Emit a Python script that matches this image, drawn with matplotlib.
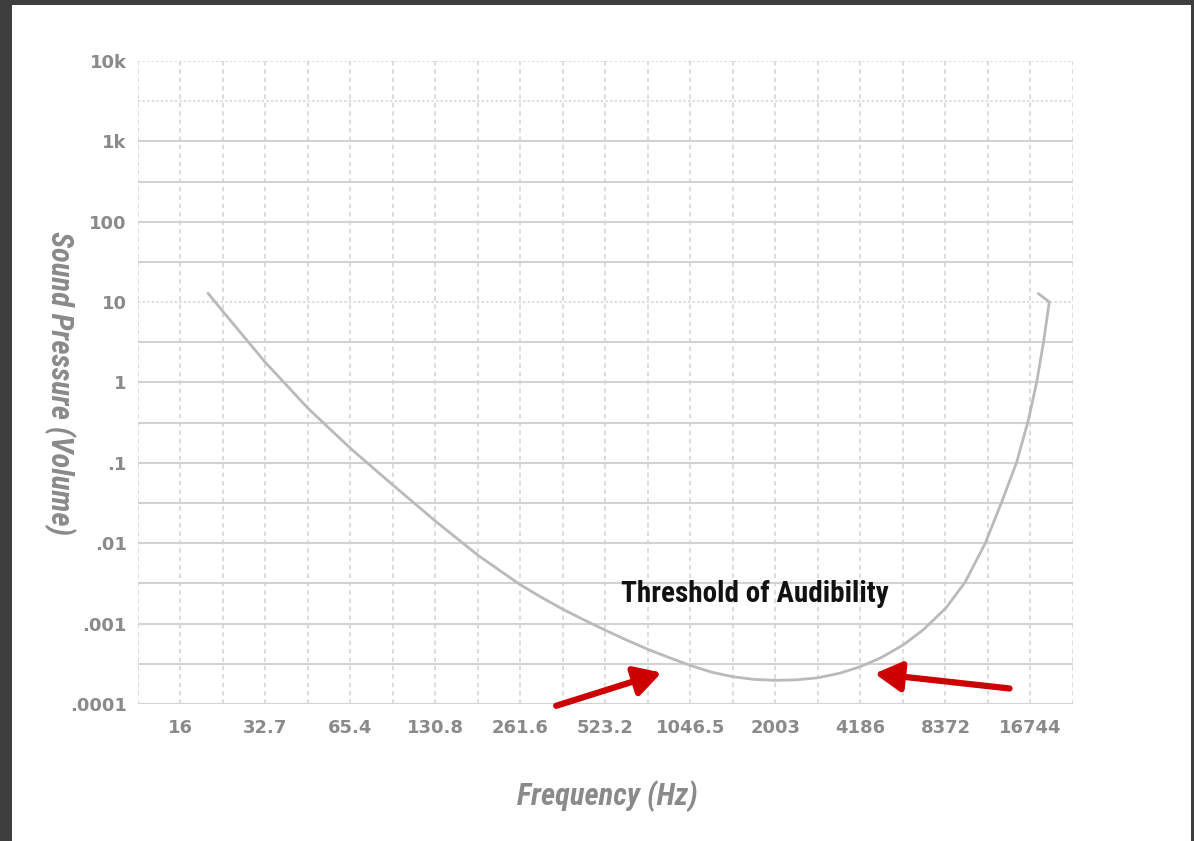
import numpy as np
import matplotlib
matplotlib.use("Agg")
import matplotlib.pyplot as plt
from matplotlib.patches import Rectangle
from matplotlib.ticker import NullLocator

# Octave frequencies on the x axis and their printed labels
octave_hz = [16.35, 32.7, 65.4, 130.8, 261.6, 523.2, 1046.5, 2093.0, 4186.0, 8372.0, 16744.0]
octave_labels = ["16", "32.7", "65.4", "130.8", "261.6", "523.2", "1046.5", "2003", "4186", "8372", "16744"]

# Sound pressure decades on the y axis
pressure_ticks = [1e-4, 1e-3, 1e-2, 1e-1, 1, 10, 100, 1e3, 1e4]
pressure_labels = [".0001", ".001", ".01", ".1", "1", "10", "100", "1k", "10k"]

# Threshold of audibility curve (frequency in Hz, relative sound pressure)
threshold_hz = [20.46, 23.18, 32.56, 46.36, 65.99, 92.7, 132.0, 185.3, 260.4, 306.5,
                368.8, 436.2, 523.6, 621.4, 741.2, 884.7, 1047, 1243, 1482, 1769,
                2095, 2486, 2965, 3539, 4189, 4971, 5930, 6979, 8399, 9807,
                11553, 13237, 14959, 16446, 17610, 18585, 19515, 17841]
threshold_p = [12.9, 7.55, 1.80, 0.473, 0.1473, 0.0525, 0.01832, 0.00705, 0.003068, 0.002176,
               0.001516, 0.001125, 0.000825, 0.000625, 0.000477, 0.000375, 0.000301, 0.000249,
               0.000218, 0.000202, 0.000197, 0.000200, 0.000212, 0.000242, 0.000292, 0.000380,
               0.000543, 0.000837, 0.001564, 0.003248, 0.00986, 0.0325, 0.102, 0.338, 1.01,
               3.05, 10.05, 12.8]

# Callout text and the two arrows pointing at the curve minimum
callout_text = "Threshold of Audibility"
callout_at = (1764, 2.37e-3)
arrows = [((350, 9.5e-5), (826.6, 2.46e-4)),
          ((14110, 1.56e-4), (4693, 2.39e-4))]

GRID = "#d2d2d2"
LABEL = "#8a8a8a"
NARROW = ["Roboto Condensed", "DejaVu Sans"]

fig = plt.figure(figsize=(11.94, 8.41), dpi=100, facecolor="white")

# dark frame around the page
frame = "#3e3e3e"
fig.add_artist(Rectangle((0, 1 - 5 / 841), 1, 5 / 841, transform=fig.transFigure,
                         facecolor=frame, edgecolor="none"))
fig.add_artist(Rectangle((0, 0), 12 / 1194, 1, transform=fig.transFigure,
                         facecolor=frame, edgecolor="none"))
fig.add_artist(Rectangle((1 - 3 / 1194, 0), 3 / 1194, 1, transform=fig.transFigure,
                         facecolor=frame, edgecolor="none"))

ax = fig.add_axes([138 / 1194, 137 / 841, 935 / 1194, 643 / 841])
ax.set_xscale("log", base=2)
ax.set_yscale("log")
ax.set_xlim(octave_hz[0] / np.sqrt(2), octave_hz[-1] * np.sqrt(2))
ax.set_ylim(pressure_ticks[0], pressure_ticks[-1])
for s in ax.spines.values():
    s.set_visible(False)

# vertical grid: every half octave, dashed
half_octaves = octave_hz[0] * 2.0 ** (np.arange(-1, 2 * len(octave_hz)) / 2)
for xv in half_octaves:
    ax.axvline(xv, color=GRID, lw=1.1, ls=(0, (3, 2.5)), zorder=1)

# horizontal grid: every half decade
half_decades = 10.0 ** (np.arange(-8, 9) / 2)
dotted_rows = {8, 7, 2}
for j, yv in zip(range(-8, 9), half_decades):
    if j in dotted_rows:
        ax.axhline(yv, color=GRID, lw=1.1, ls=(0, (1.5, 1.5)), zorder=1)
    else:
        ax.axhline(yv, color=GRID, lw=1.5, zorder=1)

ax.plot(threshold_hz, threshold_p, color="#bababa", lw=2.0, zorder=3,
        solid_joinstyle="round", solid_capstyle="round")

ax.set_xticks(octave_hz, octave_labels)
ax.set_yticks(pressure_ticks, pressure_labels)
ax.xaxis.set_minor_locator(NullLocator())
ax.yaxis.set_minor_locator(NullLocator())
ax.tick_params(length=0)
ax.tick_params(axis="x", pad=11)
ax.tick_params(axis="y", pad=8)
for t in ax.get_xticklabels() + ax.get_yticklabels():
    t.set_fontfamily("DejaVu Sans")
    t.set_fontweight("bold")
    t.set_fontsize(13)
    t.set_color(LABEL)

ax.set_xlabel("Frequency (Hz)", family=NARROW, style="italic", weight="bold",
              size=22, color=LABEL)
ax.xaxis.set_label_coords(0.5016, -0.118)
ax.set_ylabel("Sound Pressure (Volume)", family=NARROW, style="italic", weight="bold",
              size=22, color=LABEL, rotation=-90, va="center", ha="center")
ax.yaxis.set_label_coords(-0.0834, 0.499)

ax.text(callout_at[0], callout_at[1], callout_text, family=NARROW, weight="bold",
        size=21, color="#111111", ha="center", va="center", zorder=4)

for tail, tip in arrows:
    ax.annotate("", xy=tip, xytext=tail, xycoords="data", textcoords="data",
                annotation_clip=False,
                arrowprops=dict(arrowstyle="-|>,head_length=0.8,head_width=0.45",
                                mutation_scale=20, lw=4.5, color="#cc0000",
                                shrinkA=0, shrinkB=0), zorder=5)

fig.savefig("out.png", dpi=100, facecolor="white")
